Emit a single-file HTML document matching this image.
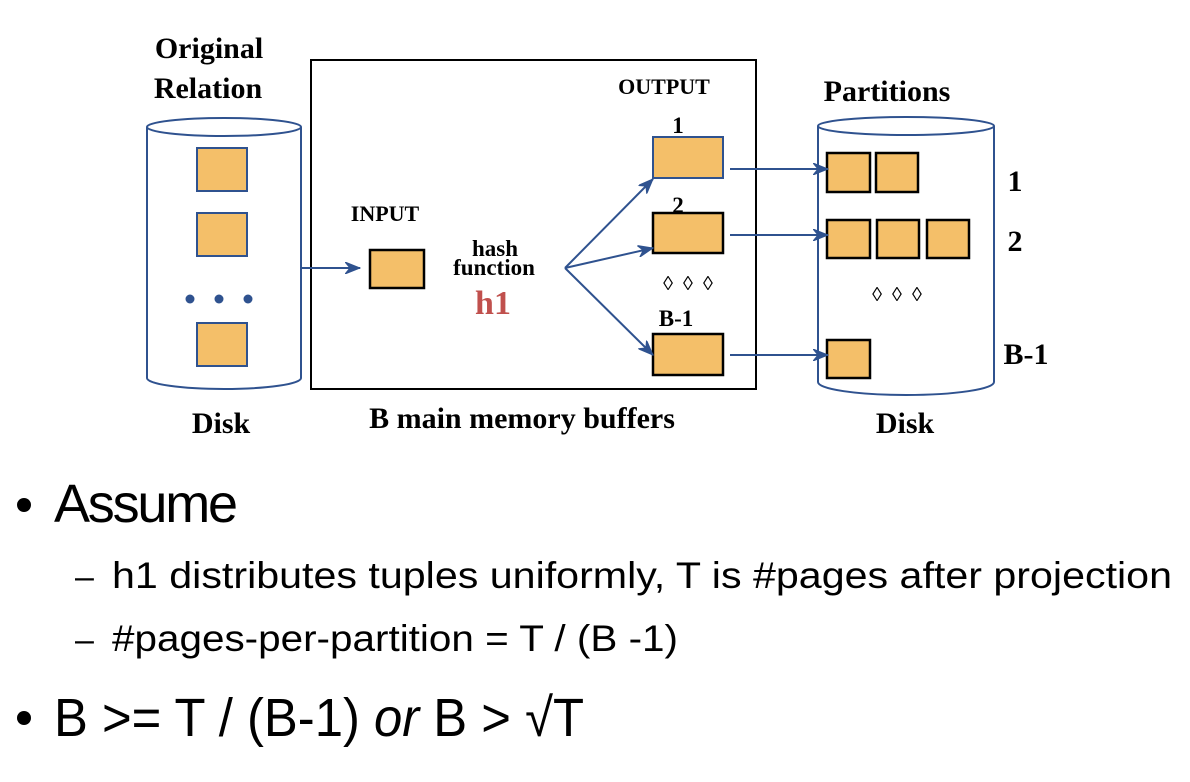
<!DOCTYPE html>
<html><head><meta charset="utf-8"><style>
body{margin:0;background:#fff;width:1190px;height:782px;overflow:hidden}
svg{display:block}
.t{font-family:"Liberation Serif",serif;font-weight:bold;fill:#000}
.s{font-family:"Liberation Sans",sans-serif;fill:#000}
</style></head><body>
<svg width="1190" height="782" viewBox="0 0 1190 782">
<defs><marker id="ah" viewBox="0 0 16 12" refX="15" refY="6" markerWidth="16" markerHeight="12" markerUnits="userSpaceOnUse" orient="auto"><path d="M0,0 L15,6 L0,12 L5,6 Z" fill="#2f528f" stroke="#2f528f" stroke-width="1"/></marker></defs>
<g fill="none" stroke="#2f528f" stroke-width="2">
<g>
<path d="M147,127 L147,378 A77,11 0 0 0 301,378 L301,127" fill="#fff"/>
<ellipse cx="224" cy="127" rx="77" ry="9" fill="#fff"/>
</g>
<g>
<path d="M818,126 L818,382 A88,13 0 0 0 994,382 L994,126" fill="#fff"/>
<ellipse cx="906" cy="126" rx="88" ry="9" fill="#fff"/>
</g>
</g>
<g fill="#f4bf69" stroke="#2f528f" stroke-width="2">
<rect x="197" y="148" width="50" height="43"/>
<rect x="197" y="213" width="50" height="43"/>
<rect x="197" y="323" width="50" height="43"/>
<rect x="653" y="137" width="70" height="41"/>
</g>
<g fill="#2f528f"><circle cx="190" cy="299" r="4.5"/><circle cx="219" cy="299" r="4.5"/><circle cx="248" cy="299" r="4.5"/></g>
<rect x="311" y="60" width="445" height="329" fill="none" stroke="#000" stroke-width="2"/>
<g fill="#f4bf69" stroke="#000" stroke-width="2.5">
<rect x="370" y="250" width="54" height="38"/>
<rect x="653" y="213" width="70" height="40"/>
<rect x="653" y="334" width="70" height="41"/>
<rect x="827" y="153" width="43" height="39"/>
<rect x="876" y="153" width="42" height="39"/>
<rect x="827" y="220" width="43" height="38"/>
<rect x="877" y="220" width="42" height="38"/>
<rect x="927" y="220" width="42" height="38"/>
<rect x="827" y="340" width="43" height="38"/>
</g>
<g stroke="#2f528f" stroke-width="2" fill="none" marker-end="url(#ah)">
<line x1="301" y1="268" x2="360" y2="268"/>
<line x1="565" y1="268" x2="653" y2="179"/>
<line x1="565" y1="268" x2="653" y2="248"/>
<line x1="565" y1="268" x2="653" y2="355"/>
<line x1="730" y1="169" x2="828" y2="169"/>
<line x1="730" y1="235" x2="828" y2="235"/>
<line x1="730" y1="355" x2="828" y2="355"/>
</g>
<text class="t" x="209" y="58" font-size="30" text-anchor="middle">Original</text>
<text class="t" x="208" y="98" font-size="30" text-anchor="middle">Relation</text>
<text class="t" x="221" y="433" font-size="30" text-anchor="middle">Disk</text>
<text class="t" x="522" y="428" font-size="30" text-anchor="middle">B main memory buffers</text>
<text class="t" x="905" y="433" font-size="30" text-anchor="middle">Disk</text>
<text class="t" x="887" y="101" font-size="30" text-anchor="middle">Partitions</text>
<text class="t" x="385" y="221" font-size="22" text-anchor="middle">INPUT</text>
<text class="t" x="664" y="94" font-size="22" text-anchor="middle">OUTPUT</text>
<text class="t" x="495" y="256" font-size="23" text-anchor="middle">hash</text>
<text class="t" x="494" y="275" font-size="23" text-anchor="middle">function</text>
<text class="t" x="493" y="314" font-size="34" text-anchor="middle" style="fill:#c0504d">h1</text>
<text class="t" x="678" y="133" font-size="23" text-anchor="middle">1</text>
<text class="t" x="678" y="213" font-size="23" text-anchor="middle">2</text>
<text class="t" x="676" y="326" font-size="23" text-anchor="middle">B-1</text>
<text class="t" x="688" y="290" font-size="20" text-anchor="middle">◊&#160;&#160;◊&#160;&#160;◊</text>
<text class="t" x="897" y="301" font-size="20" text-anchor="middle">◊&#160;&#160;◊&#160;&#160;◊</text>
<text class="t" x="1015" y="191" font-size="30" text-anchor="middle">1</text>
<text class="t" x="1015" y="251" font-size="30" text-anchor="middle">2</text>
<text class="t" x="1026" y="364" font-size="30" text-anchor="middle">B-1</text>
<circle cx="24" cy="505" r="7" fill="#000"/>
<text class="s" x="54" y="522" font-size="54" textLength="184">Assume</text>
<text class="s" x="75" y="588" font-size="34">–</text>
<text class="s" x="112" y="588" font-size="37" textLength="1060" lengthAdjust="spacingAndGlyphs">h1 distributes tuples uniformly, T is #pages after projection</text>
<text class="s" x="75" y="651" font-size="34">–</text>
<text class="s" x="112" y="651" font-size="37" textLength="566" lengthAdjust="spacingAndGlyphs">#pages-per-partition = T / (B -1)</text>
<circle cx="24" cy="718" r="7" fill="#000"/>
<text class="s" x="54" y="736" font-size="54" textLength="530" lengthAdjust="spacingAndGlyphs">B &gt;= T / (B-1) <tspan font-style="italic">or</tspan> B &gt; √T</text>
</svg>
</body></html>
